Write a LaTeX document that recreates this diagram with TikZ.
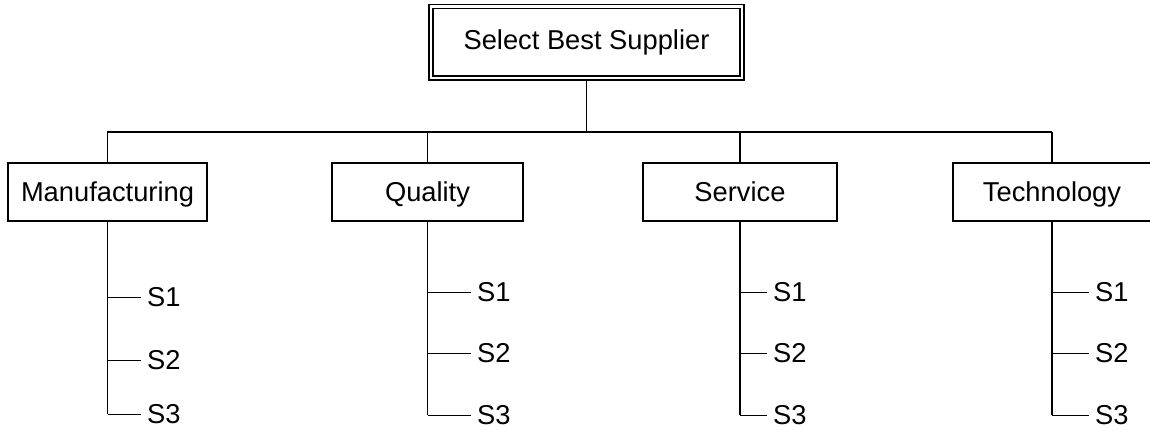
\documentclass[tikz,border=0pt]{standalone}
\usepackage{fontspec}
\setmainfont{Liberation Sans}
\begin{document}
\begin{tikzpicture}[x=1pt,y=-1pt,
  txt/.style={font=\fontsize{27.3}{30}\selectfont, text height=19.5pt, text depth=0pt},
  topbox/.style={txt, draw, double, double distance=2.6pt, line width=1.3pt, minimum width=311pt, minimum height=71.5pt, inner sep=0pt},
  catbox/.style={txt, draw, line width=1.3pt, minimum height=58pt, inner sep=0pt},
  leaf/.style={txt, anchor=west, inner xsep=6pt, inner ysep=0pt},
  trunk/.style={line width=1.8pt},
  tick/.style={line width=1pt}]
\useasboundingbox (0,0) rectangle (1150,431);
\node[topbox] (top) at (586.5,42.25) {\raisebox{3pt}{Select Best Supplier}};
\node[catbox, minimum width=199pt] (man) at (107.5,192) {Manufacturing};
\node[catbox, minimum width=191pt] (qua) at (427.5,192) {Quality};
\node[catbox, minimum width=194pt] (ser) at (740,192) {Service};
\node[catbox, minimum width=198pt] (tec) at (1052,192) {Technology};
\coordinate (bar) at (586.5,132);
\coordinate (barR) at (1052,132);
\draw[trunk] (top.south) -- (bar);
\draw[trunk] (man.north) |- (barR);
\foreach \n in {qua,ser,tec} \draw[trunk] (\n.north) -- (\n.north |- bar);
% leaves
\node[leaf] (m1) at (141,297) {S1};
\node[leaf] (m2) at (141,360) {S2};
\node[leaf] (m3) at (141,414) {S3};
\node[leaf] (q1) at (471,292) {S1};
\node[leaf] (q2) at (471,353) {S2};
\node[leaf] (q3) at (471,415) {S3};
\node[leaf] (s1) at (767,292) {S1};
\node[leaf] (s2) at (767,353) {S2};
\node[leaf] (s3) at (767,415) {S3};
\node[leaf] (t1) at (1089,292) {S1};
\node[leaf] (t2) at (1089,353) {S2};
\node[leaf] (t3) at (1089,415) {S3};
\foreach \b/\p in {man/m,qua/q,ser/s,tec/t}{
  \draw[trunk] (\b.south) -- (\b.south |- \p3.west);
  \foreach \i in {1,2,3} \draw[tick] (\b.south |- \p\i.west) -- (\p\i.west);
}
\end{tikzpicture}
\end{document}
